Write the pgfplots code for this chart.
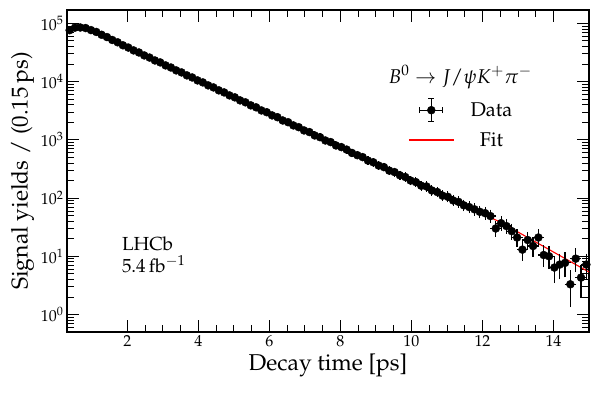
\documentclass[border=0pt]{standalone}
\usepackage[T1]{fontenc}
\usepackage{mathpazo}
\usepackage{pgfplots}
\pgfplotsset{compat=1.18}

\pgfplotstableread{
t      n      ey
0.375  76500  277
0.525  84600  291
0.675  85100  292
0.825  83200  288
0.975  76800  277
1.125  71300  267
1.275  63800  253
1.425  58300  241
1.575  51900  228
1.725  47400  218
1.875  42100  205
2.025  38500  196
2.175  34400  185
2.325  31700  178
2.475  28200  168
2.625  25900  161
2.775  23100  152
2.925  21400  146
3.075  19000  138
3.225  17500  132
3.375  15600  125
3.525  14400  120
3.675  12800  113
3.825  11800  109
3.975  10500  102
4.125  9700   98
4.275  8620   93
4.425  7950   89
4.575  7080   84
4.725  6530   81
4.875  5800   76
5.025  5370   73
5.175  4760   69
5.325  4410   66
5.475  3910   63
5.625  3620   60
5.775  3200   57
5.925  2980   55
6.075  2630   51
6.225  2450   49
6.375  2150   46
6.525  2010   45
6.675  1770   42
6.825  1650   41
6.975  1450   38
7.125  1360   37
7.275  1190   34
7.425  1110   33
7.575  975    31
7.725  915    30
7.875  800    28
8.025  750    27
8.175  680    26
8.325  595    24
8.475  545    23
8.625  505    22
8.775  440    21
8.925  412    20
9.075  362    19
9.225  340    18
9.375  296    17
9.525  279    17
9.675  246    16
9.825  230    15
9.975  200    14
10.125 188    14
10.275 163    13
10.425 158    13
10.575 135    12
10.725 127    11
10.875 110    10.5
11.025 105    10.2
11.175 91     9.5
11.325 86     9.3
11.475 75     8.7
11.625 70     8.4
11.775 64     8.0
11.925 58     7.6
12.075 55     7.4
12.225 49     7.0
12.375 30     5.5
12.525 37     6.1
12.675 33     5.7
12.825 27     5.2
12.975 21     4.6
13.125 13     3.6
13.275 19     4.4
13.425 15     3.9
13.575 21     4.6
13.725 10.5   3.2
13.875 10     3.2
14.025 6.4    2.5
14.175 7.2    2.7
14.325 7.7    2.8
14.475 3.3    1.8
14.625 9.1    3.0
14.775 4.3    2.1
14.925 7.2    2.7
}\datatable

\begin{document}
\begin{tikzpicture}
\begin{axis}[
    name=main,
    scale only axis,
    width=522bp,
    height=322bp,
    ymode=log,
    xmin=0.3, xmax=15,
    ymin=0.5, ymax=1.7e5,
    xtick={2,4,...,14},
    minor x tick num=3,
    tick align=inside,
    major tick length=12bp,
    minor tick length=7bp,
    every tick/.style={black, line width=0.9bp},
    axis line style={black, line width=1.4bp},
    tick label style={font=\fontsize{16}{19}\selectfont},
    label style={font=\fontsize{23}{27}\selectfont},
    xlabel={Decay time [ps]},
    ylabel={Signal yields / (0.15\,ps)},
    legend style={at={(0.653,0.727)}, anchor=north west, draw=none, fill=none,
        font=\fontsize{20}{24}\selectfont, row sep=8bp, inner sep=0pt},
]

% fit
\addplot[red, line width=1.1bp, forget plot] coordinates {
    (0.3,72440) (0.45,82220) (0.6,86100) (0.75,85110) (0.9,80350)
    (1.05,74130) (1.2,67610) (1.35,60950) (1.5,54950) (1.75,46240)
    (2.0,38900) (12.525,38.0) (15.0,5.36)
};

% data
\addplot[black, only marks, mark=*, mark size=4bp, forget plot,
    error bars/.cd, x dir=both, x fixed=0.075, y dir=both, y explicit,
    error bar style={line width=1.2bp},
    error mark options={line width=1.2bp, mark size=3bp}]
    table[x=t, y=n, y error=ey] {\datatable};

\addlegendimage{black, legend image code/.code={
    \draw[black, line width=1.2bp] (0bp,0bp)--(23bp,0bp);
    \draw[black, line width=1.2bp] (11.5bp,-11.5bp)--(11.5bp,11.5bp);
    \draw[black, line width=1.2bp] (0bp,-3bp)--(0bp,3bp);
    \draw[black, line width=1.2bp] (23bp,-3bp)--(23bp,3bp);
    \draw[black, line width=1.2bp] (8.5bp,11.5bp)--(14.5bp,11.5bp);
    \draw[black, line width=1.2bp] (8.5bp,-11.5bp)--(14.5bp,-11.5bp);
    \fill[black] (11.5bp,0bp) circle[radius=4bp];}}
\addlegendentry{\hspace{14bp}Data}
\addlegendimage{red, line width=1.5bp, legend image code/.code={
    \draw[draw=red, line width=1.5bp] (-11bp,0bp)--(34bp,0bp);}}
\addlegendentry{\hspace{14bp}Fit}

\node[anchor=base, font=\fontsize{20}{24}\selectfont] at (rel axis cs:0.753,0.773)
    {$B^0\to J/\psi K^+\pi^-$};
\node[anchor=north west, align=left, font=\fontsize{19}{22}\selectfont, inner sep=0pt]
    at (rel axis cs:0.105,0.295) {LHCb\\5.4\,fb$^{-1}$};
\end{axis}
\path ([shift={(-67bp,-62bp)}]main.south west) rectangle ([shift={(10bp,10bp)}]main.north east);
\end{tikzpicture}
\end{document}
